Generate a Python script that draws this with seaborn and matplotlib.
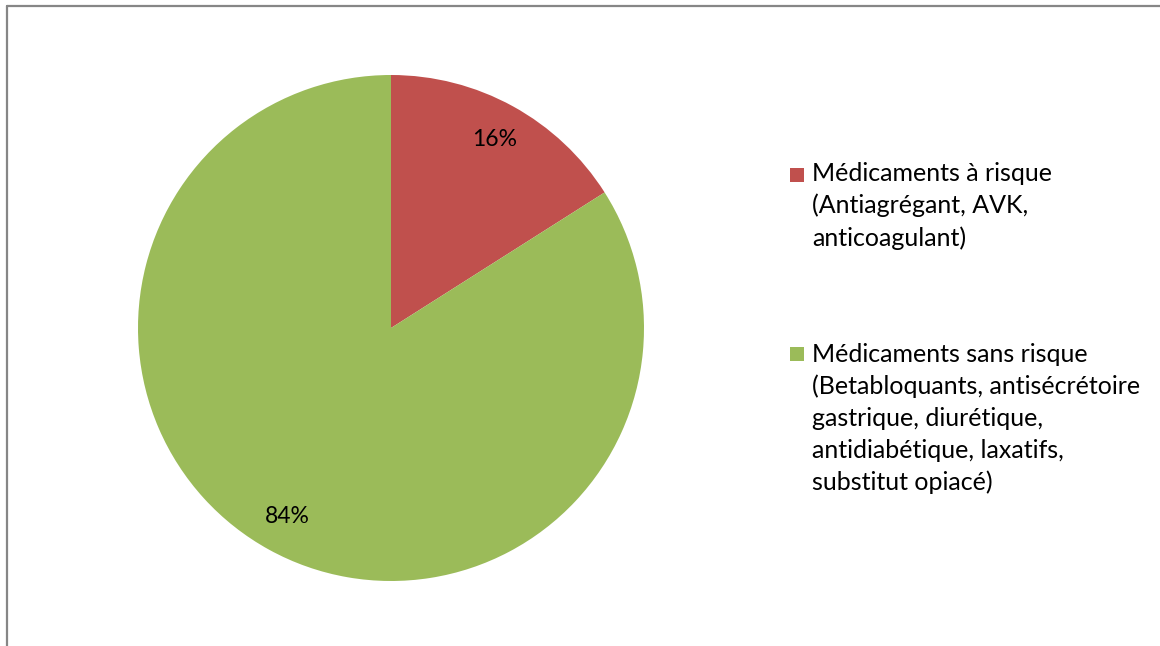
import matplotlib
matplotlib.use("Agg")
import matplotlib.pyplot as plt
import seaborn as sns
from matplotlib.patches import Rectangle
from matplotlib.lines import Line2D

# data
categories = ["Médicaments à risque\n(Antiagrégant, AVK,\nanticoagulant)",
              "Médicaments sans risque\n(Betabloquants, antisécrétoire\ngastrique, diurétique,\nantidiabétique, laxatifs,\nsubstitut opiacé)"]
shares = [16, 84]
colors = ["#C0504D", "#9BBB59"]

sns.set_theme(style="white")
plt.rcParams['font.family'] = ['Lato', 'DejaVu Sans']

W, H = 1160, 646
fig = plt.figure(figsize=(W / 100, H / 100), dpi=100)
fig.patch.set_facecolor("white")

# pie axes: center (391, 328) px, radius 253 px
cx, cy, r = 391, H - 328, 253
ax = fig.add_axes([(cx - r) / W, (cy - r) / H, 2 * r / W, 2 * r / H])
wedges, texts, autotexts = ax.pie(
    shares, colors=colors, startangle=90, counterclock=False,
    autopct=lambda p: f"{p:.0f}%", pctdistance=0.85,
    wedgeprops=dict(linewidth=0),
    textprops=dict(fontsize=16.5, color="black"))
ax.set_xlim(-1, 1)
ax.set_ylim(-1, 1)
ax.set_aspect("equal")
ax.axis("off")

# legend drawn manually (marker aligned with first line)
fs = 18
legend_tops = [162, 343]
marker_bottoms = [182, 361]
for lab, col, top, mb in zip(categories, colors, legend_tops, marker_bottoms):
    fig.add_artist(Rectangle((790 / W, 1 - mb / H), 14 / W, 14 / H,
                             transform=fig.transFigure, color=col, lw=0))
    fig.text(812 / W, 1 - top / H, lab, fontsize=fs, va="top", ha="left",
             linespacing=1.45, color="black")

# border (top and left visible)
fig.add_artist(Line2D([7 / W, 7 / W], [0, 1 - 6 / H], transform=fig.transFigure,
                      color="#868686", lw=1.6))
fig.add_artist(Line2D([7 / W, 1], [1 - 6 / H, 1 - 6 / H], transform=fig.transFigure,
                      color="#868686", lw=1.6))

fig.savefig("out.png", dpi=100)
